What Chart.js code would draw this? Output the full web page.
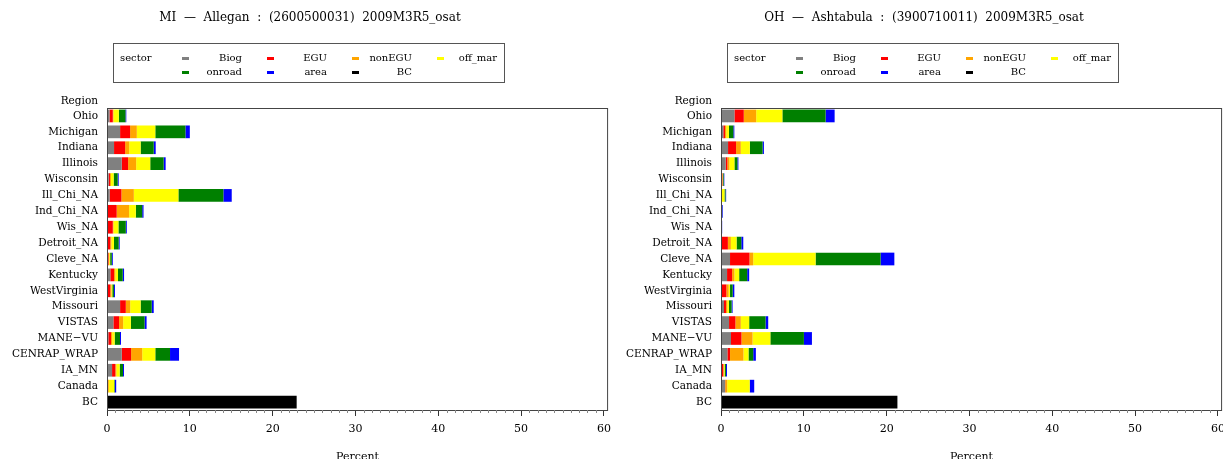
<!DOCTYPE html>
<html>
<head>
<meta charset="utf-8">
<script src="https://cdn.jsdelivr.net/npm/chart.js@4"></script>
<style>
    body { margin: 0; background: #fff; overflow: hidden; width: 1223px; height: 459px; position: relative; font-family: "DejaVu Serif", serif; color: #000; }
    .panel { position: absolute; top: 0; width: 618px; height: 464px; }
    .panel canvas { position: absolute; left: 0; top: 0; }
    .title { position: absolute; top: 10px; left: 0; width: 620px; text-align: center; font-size: 12px; white-space: pre; }
    .legend { position: absolute; left: 113px; top: 43px; width: 390px; height: 38px; border: 1px solid #555; font-size: 10px; }
    .legend span { position: absolute; white-space: pre; line-height: 12px; }
    .legend i { position: absolute; width: 7px; height: 3px; }
</style>
</head>
<body>
<div class="panel" style="left:0">
    <canvas id="chartL" width="618" height="464"></canvas>
    <div class="title">MI  —  Allegan  :  (2600500031)  2009M3R5_osat</div>
    <div class="legend" id="legendL"></div>
</div>
<div class="panel" style="left:614px">
    <canvas id="chartR" width="618" height="464"></canvas>
    <div class="title">OH  —  Ashtabula  :  (3900710011)  2009M3R5_osat</div>
    <div class="legend" id="legendR"></div>
</div>
<script>
const regions = ["Ohio", "Michigan", "Indiana", "Illinois", "Wisconsin", "Ill_Chi_NA", "Ind_Chi_NA", "Wis_NA",
    "Detroit_NA", "Cleve_NA", "Kentucky", "WestVirginia", "Missouri", "VISTAS", "MANE\u2212VU", "CENRAP_WRAP",
    "IA_MN", "Canada", "BC"];
const sectors = ["Biog", "EGU", "nonEGU", "off_mar", "onroad", "area", "BC"];
const sectorColors = ["#808080", "#ff0000", "#ffa500", "#ffff00", "#008000", "#0000ff", "#000000"];
const xTicks = [0, 10, 20, 30, 40, 50, 60];

// MI - Allegan
const biogL   = [0.30, 1.58, 0.85, 1.78, 0.20, 0.32, 0.08, 0.05, 0.08, 0.02, 0.40, 0.08, 1.58, 0.77, 0.16, 1.78, 0.61, 0.08, 0];
const eguL    = [0.40, 1.21, 1.34, 0.77, 0.16, 1.42, 1.09, 0.65, 0.32, 0.16, 0.45, 0.32, 0.69, 0.69, 0.32, 1.13, 0.40, 0.02, 0];
const nonEguL = [0.08, 0.81, 0.49, 0.97, 0.12, 1.50, 1.50, 0.08, 0.12, 0.08, 0.16, 0.12, 0.53, 0.49, 0.16, 1.34, 0.12, 0.12, 0];
const offMarL = [0.65, 2.23, 1.38, 1.70, 0.32, 5.38, 0.81, 0.60, 0.32, 0.12, 0.32, 0.12, 1.26, 0.93, 0.28, 1.58, 0.40, 0.65, 0];
const onroadL = [0.80, 3.64, 1.58, 1.62, 0.49, 5.43, 0.77, 0.89, 0.57, 0.20, 0.57, 0.20, 1.34, 1.66, 0.65, 1.78, 0.40, 0.08, 0];
const areaL   = [0.10, 0.53, 0.24, 0.24, 0.12, 1.01, 0.16, 0.12, 0.12, 0.12, 0.16, 0.12, 0.24, 0.24, 0.12, 1.09, 0.12, 0.16, 0];
const bcL = 22.9;

// OH - Ashtabula
const biogR   = [1.62, 0.28, 0.85, 0.57, 0.08, 0.02, 0.01, 0.01, 0.02, 1.09, 0.73, 0.04, 0.36, 0.97, 1.21, 0.77, 0.12, 0.49, 0];
const eguR    = [1.13, 0.20, 0.97, 0.20, 0.08, 0.04, 0.04, 0.01, 0.81, 2.35, 0.61, 0.61, 0.24, 0.77, 1.26, 0.32, 0.16, 0.02, 0];
const nonEguR = [1.50, 0.16, 0.57, 0.24, 0.04, 0.04, 0.04, 0.01, 0.36, 0.45, 0.28, 0.28, 0.16, 0.65, 1.34, 1.62, 0.04, 0.24, 0];
const offMarR = [3.16, 0.32, 1.09, 0.61, 0.04, 0.32, 0.02, 0.01, 0.69, 7.53, 0.57, 0.16, 0.20, 1.01, 2.15, 0.61, 0.12, 2.71, 0];
const onroadR = [5.22, 0.53, 1.54, 0.36, 0.08, 0.12, 0.02, 0.02, 0.57, 7.85, 0.97, 0.32, 0.32, 1.98, 4.05, 0.57, 0.16, 0.02, 0];
const areaR   = [1.09, 0.12, 0.16, 0.12, 0.08, 0.08, 0.08, 0.08, 0.24, 1.66, 0.24, 0.20, 0.12, 0.32, 0.97, 0.32, 0.12, 0.53, 0];
const bcR = 21.3;

const FONT = "DejaVu Serif";

// box around plot, minor ticks, "Region" header
const framePlugin = {
    id: "frame",
    afterDraw(chart) {
        const { ctx, chartArea: a, scales: { x, y } } = chart;
        ctx.save();
        ctx.strokeStyle = "#444";
        ctx.lineWidth = 1;
        ctx.strokeRect(a.left + 0.5, a.top + 0.5, a.right - a.left - 1, a.bottom - a.top);
        ctx.strokeStyle = "#888";
        for (let v = 1; v < 60; v++) {
            if (v % 10 === 0) continue;
            const px = Math.round(x.getPixelForValue(v)) + 0.5;
            ctx.beginPath();
            ctx.moveTo(px, a.bottom);
            ctx.lineTo(px, a.bottom + 3);
            ctx.stroke();
        }
        ctx.fillStyle = "#000";
        ctx.font = "10.5px '" + FONT + "'";
        ctx.textAlign = "right";
        ctx.textBaseline = "middle";
        ctx.fillText("Region", y.right - 9, a.top - 7);
        ctx.restore();
    }
};

function buildLegend(id) {
    const box = document.getElementById(id);
    let html = '<span style="left:6px;top:8px">sector</span>';
    sectors.forEach((name, i) => {
        const col = i % 4, row = Math.floor(i / 4);
        const top = 8 + row * 14;
        html += `<i style="left:${68 + col * 85}px;top:${top + 5}px;background:${sectorColors[i]}"></i>`;
        html += `<span style="left:${68 + col * 85}px;width:60px;text-align:right;top:${top}px">${name}</span>`;
    });
    box.innerHTML = html;
}

function renderPanel(canvasId, series, bc) {
    const datasets = sectors.map((name, i) => ({
        label: name,
        data: name === "BC" ? regions.map(r => r === "BC" ? bc : null) : series[i],
        backgroundColor: sectorColors[i],
        borderWidth: 0,
        barPercentage: 0.8,
        categoryPercentage: 1.0
    }));

    new Chart(document.getElementById(canvasId), {
        type: "bar",
        data: { labels: regions, datasets: datasets },
        plugins: [framePlugin],
        options: {
            indexAxis: "y",
            responsive: false,
            animation: false,
            layout: { padding: { top: 108, right: 7, left: 0, bottom: 0 } },
            scales: {
                x: {
                    stacked: true,
                    min: 0,
                    max: 60.5,
                    afterFit: s => { s.height = 54; },
                    afterBuildTicks: s => { s.ticks = xTicks.map(v => ({ value: v })); },
                    grid: { drawOnChartArea: false, tickLength: 6, tickColor: "#333" },
                    border: { display: false },
                    ticks: { color: "#000", padding: 7, maxRotation: 0, font: { family: FONT, size: 11 } },
                    title: { display: true, text: "Percent", color: "#000", padding: 0, font: { family: FONT, size: 11 } }
                },
                y: {
                    stacked: true,
                    afterFit: s => { s.width = 107; },
                    grid: { display: false, drawTicks: false, tickLength: 0 },
                    border: { display: false },
                    ticks: { color: "#000", padding: 9, autoSkip: false, font: { family: FONT, size: 10.5 } }
                }
            },
            plugins: {
                legend: { display: false },
                tooltip: { enabled: false }
            }
        }
    });
}

buildLegend("legendL");
buildLegend("legendR");
renderPanel("chartL", [biogL, eguL, nonEguL, offMarL, onroadL, areaL], bcL);
renderPanel("chartR", [biogR, eguR, nonEguR, offMarR, onroadR, areaR], bcR);
</script>
</body>
</html>
